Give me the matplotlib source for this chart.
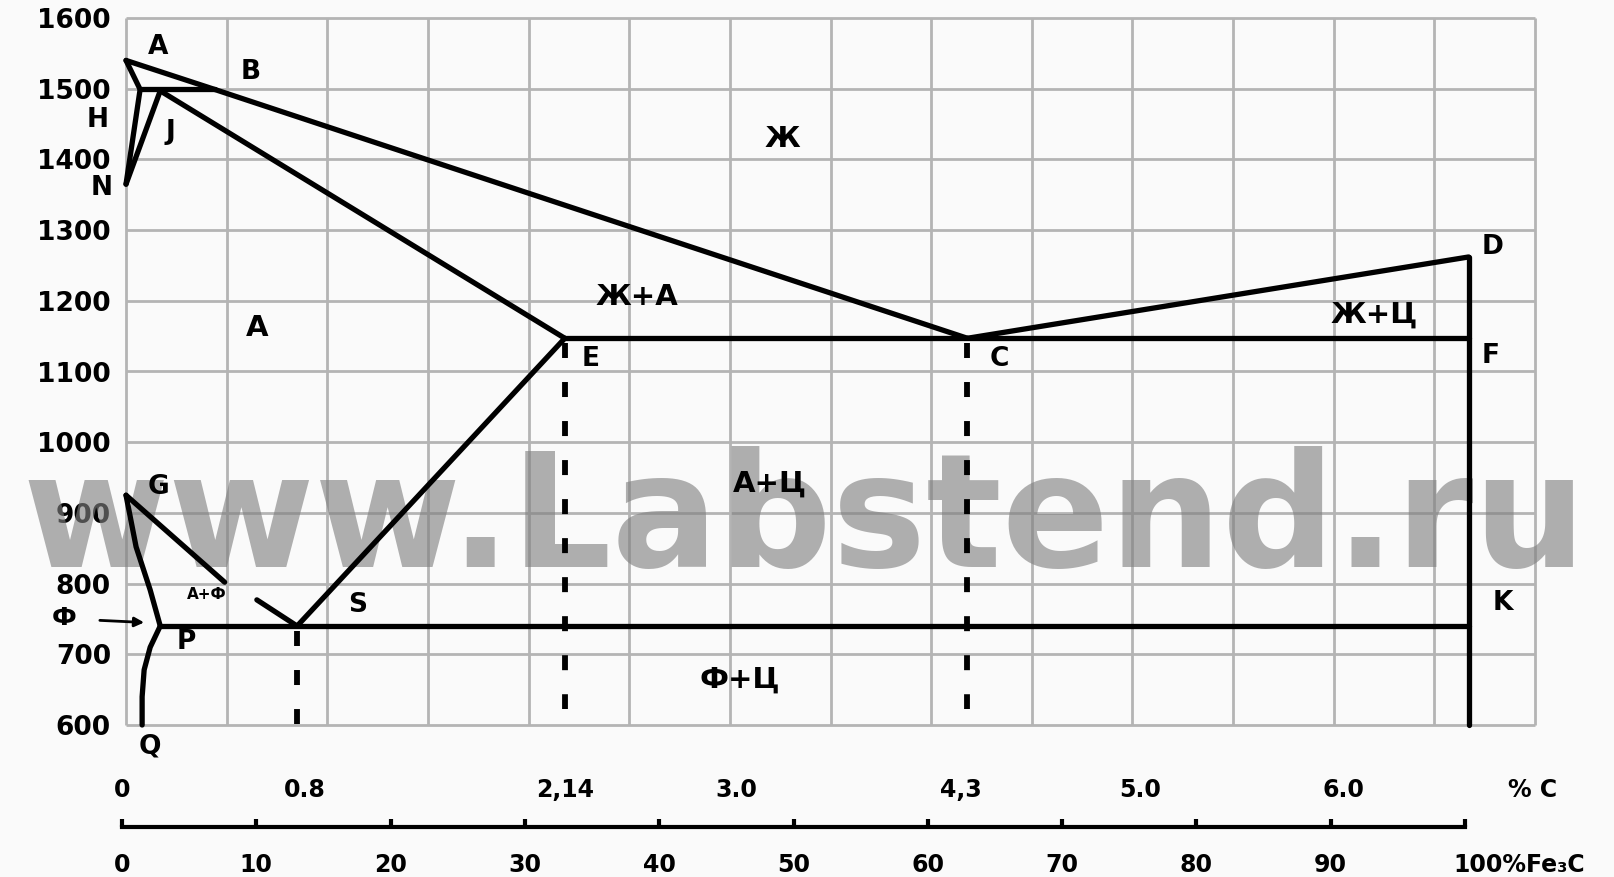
import matplotlib
matplotlib.use('Agg')
import matplotlib.pyplot as plt
import numpy as np

plt.rcParams['font.family'] = ['DejaVu Sans']
plt.rcParams['font.weight'] = 'bold'

W, H, DPI = 1614, 877, 100

# ---------------- data (wt.% C, temperature °C) ----------------
ABC_c = [0.0, 0.44, 4.18]          # liquidus A-B-C
ABC_t = [1540, 1499, 1147]
CD_c = [4.18, 6.67]                # liquidus C-D
CD_t = [1147, 1262]
AH_c = [0.0, 0.07]
AH_t = [1540, 1499]
HB_c = [0.07, 0.44]
HB_t = [1499, 1499]
HN_c = [0.07, 0.0]
HN_t = [1499, 1365]
JN_c = [0.17, 0.0]
JN_t = [1497, 1365]
JE_c = [0.17, 2.18]
JE_t = [1497, 1147]
ECF_c = [2.18, 6.67]
ECF_t = [1147, 1147]
DK_c = [6.67, 6.67]
DK_t = [1262, 600]
ES_c = [2.18, 0.85]
ES_t = [1147, 740]
GS1_c = [0.0, 0.49]
GS1_t = [925, 802]
GS2_c = [0.65, 0.85]
GS2_t = [777, 740]
GP_c = [0.0, 0.05, 0.12, 0.17]
GP_t = [925, 852, 791, 740]
PQ_c = [0.17, 0.12, 0.09, 0.08, 0.08]
PQ_t = [740, 710, 678, 640, 600]
PSK_c = [0.17, 6.67]
PSK_t = [740, 740]

solid_lines = [(ABC_c, ABC_t), (CD_c, CD_t), (AH_c, AH_t), (HB_c, HB_t), (HN_c, HN_t),
               (JN_c, JN_t), (JE_c, JE_t), (ECF_c, ECF_t), (DK_c, DK_t), (ES_c, ES_t),
               (GS1_c, GS1_t), (GS2_c, GS2_t), (GP_c, GP_t), (PQ_c, PQ_t), (PSK_c, PSK_t)]

# dashed projections S, E, C
dash_c = [0.85, 2.18, 4.18]
dash_top = [733, 1140, 1140]
dash_bot = [602, 622, 622]

# point labels
point_labels = ['A', 'B', 'H', 'J', 'N', 'E', 'C', 'F', 'D', 'G', 'S', 'K', 'P', 'Q']
point_c = [0.16, 0.62, -0.14, 0.22, -0.12, 2.31, 4.34, 6.78, 6.79, 0.16, 1.15, 6.84, 0.30, 0.12]
point_t = [1559, 1524, 1456, 1439, 1360, 1117, 1117, 1122, 1276, 937, 770, 772, 718, 570]

# phase-region labels
region_labels = ['Ж', 'Ж+А', 'А', 'Ж+Ц', 'А+Ц', 'Ф+Ц']
region_c = [3.26, 2.54, 0.65, 6.2, 3.2, 3.05]
region_t = [1429, 1205, 1162, 1180, 942, 664]

# temperature axis
temp_ticks = [600, 700, 800, 900, 1000, 1100, 1200, 1300, 1400, 1500, 1600]
# carbon axis labels
carbon_pos = [-0.02, 0.89, 2.18, 3.03, 4.15, 5.04, 6.05, 6.99]
carbon_labels = ['0', '0.8', '2,14', '3.0', '4,3', '5.0', '6.0', '% C']
# cementite scale
fe3c_ticks = [0, 10, 20, 30, 40, 50, 60, 70, 80, 90, 100]
fe3c_labels = ['0', '10', '20', '30', '40', '50', '60', '70', '80', '90', '']

# ---------------- figure ----------------
fig = plt.figure(figsize=(W / DPI, H / DPI), dpi=DPI, facecolor='#fafafa')


def fx(px):
    return px / W


def fy(py):
    return 1 - py / H


ax = fig.add_axes([fx(122), fy(725), fx(1535) - fx(122), fy(18) - fy(725)])
ax.set_xlim(0, 7.0)
ax.set_ylim(600, 1600)
ax.patch.set_visible(False)
for s in ax.spines.values():
    s.set_visible(False)

grid_c = np.arange(0, 7.01, 0.5)
ax.vlines(grid_c, 600, 1600, colors='#b4b4b4', lw=2.0, zorder=1, clip_on=False)
ax.hlines(temp_ticks, 0, 7.0, colors='#b4b4b4', lw=2.0, zorder=1, clip_on=False)

ax.set_yticks(temp_ticks, [str(t) for t in temp_ticks])
ax.tick_params(axis='y', length=0, pad=8, labelsize=19)
ax.set_xticks(carbon_pos, carbon_labels)
ax.tick_params(axis='x', length=0, pad=38, labelsize=17)

# watermark
ax.text(3.37, 823, 'www.Labstend.ru', fontsize=114, color='#808080', alpha=0.62,
        ha='center', va='baseline', zorder=2)

for c, t in solid_lines:
    ax.plot(c, t, color='black', lw=3.8, solid_capstyle='round', solid_joinstyle='round',
            clip_on=False, zorder=3)

for c, top, bot in zip(dash_c, dash_top, dash_bot):
    ax.plot([c, c], [top, bot], color='black', lw=4.2, dashes=(2.57, 4.12), zorder=3)

for lab, c, t in zip(point_labels, point_c, point_t):
    ax.text(c, t, lab, fontsize=19, ha='center', va='center', zorder=4)

for lab, c, t in zip(region_labels, region_c, region_t):
    ax.text(c, t, lab, fontsize=21, ha='center', va='center', zorder=4)

ax.text(0.40, 784, 'А+Ф', fontsize=11, ha='center', va='center', zorder=4)

ax.text(-0.31, 751, 'Ф', fontsize=18, ha='center', va='center', zorder=4)
ax.annotate('', xy=(0.09, 745), xytext=(-0.13, 748),
            arrowprops=dict(arrowstyle='-|>', lw=2, color='black', mutation_scale=14,
                            shrinkA=0, shrinkB=0),
            annotation_clip=False, zorder=4)

# cementite ruler
ax2 = fig.add_axes([fx(122), fy(827), fx(1465) - fx(122), 0.0001])
ax2.set_xlim(0, 100)
ax2.patch.set_visible(False)
for k in ['top', 'left', 'right']:
    ax2.spines[k].set_visible(False)
ax2.spines['bottom'].set_linewidth(3)
ax2.set_yticks([])
ax2.set_xticks(fe3c_ticks, fe3c_labels)
ax2.tick_params(axis='x', direction='in', length=6, width=3, pad=19, labelsize=17)
ax2.annotate('100%Fe₃C', xy=(104, 0), xycoords=ax2.get_xaxis_transform(),
             xytext=(0, -19), textcoords='offset points', ha='center', va='top',
             fontsize=17, annotation_clip=False)

fig.savefig('out.png', dpi=DPI, facecolor=fig.get_facecolor())
